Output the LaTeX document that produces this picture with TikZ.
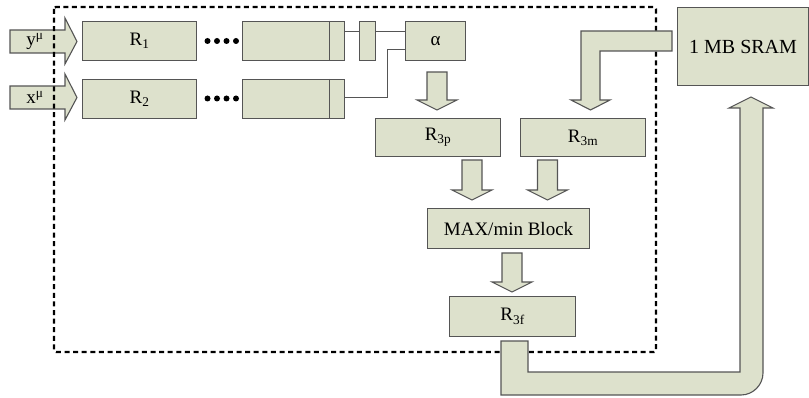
\documentclass[tikz,border=0pt]{standalone}
\usepackage{fontspec}
\setmainfont{Liberation Serif}
\definecolor{boxfill}{RGB}{221,225,204}
\definecolor{boxline}{RGB}{85,85,85}
\tikzset{
  blk/.style={draw=boxline, fill=boxfill, line width=1.1pt, inner sep=0pt, anchor=north west,
    font=\fontsize{19}{22}\selectfont},
  fat/.style={draw=boxline, fill=boxfill, line width=1.1pt, line join=miter},
  lnk/.style={draw=boxline, line width=1pt},
  frame/.style={draw=black, line width=2.3pt, dash pattern=on 5pt off 3.6pt, rounded corners=2pt},
  lbl/.style={font=\fontsize{19}{22}\selectfont, inner sep=0pt}
}
% down fat arrow: center x, top y, head base y, tip y
\newcommand{\fatdown}[4]{%
  \path[fat] (#1-10,#2) -- (#1-10,#3) -- (#1-20,#3) -- (#1,#4) -- (#1+20,#3) -- (#1+10,#3) -- (#1+10,#2) -- cycle;}
\begin{document}
\begin{tikzpicture}[x=1pt,y=-1pt]
\useasboundingbox (0,0) rectangle (809,398);

% input arrows
\path[fat] (10,30) -- (65,30) -- (65,18) -- (77,41.5) -- (65,64) -- (65,53) -- (10,53) -- cycle;
\node[lbl] (ylab) at (35,41.5) {y\textsuperscript{μ}};
\path[fat] (10,86) -- (65,86) -- (65,74) -- (77,97.5) -- (65,120) -- (65,109) -- (10,109) -- cycle;
\node[lbl] (xlab) at (35,97.5) {x\textsuperscript{μ}};

% dashed frame
\draw[frame] (54,7) rectangle (656,352);

% register chains
\node[blk, minimum width=114pt, minimum height=39pt] (r1) at (82,21) {R\textsubscript{1}};
\node[blk, minimum width=114pt, minimum height=39pt] (r2) at (82,79) {R\textsubscript{2}};
\node[blk, minimum width=102pt, minimum height=39pt] (b1) at (242,21) {};
\node[blk, minimum width=102pt, minimum height=39pt] (b2) at (242,79) {};
\draw[lnk] ([xshift=-16pt]b1.north east) -- ([xshift=-16pt]b1.south east);
\draw[lnk] ([xshift=-16pt]b2.north east) -- ([xshift=-16pt]b2.south east);
\foreach \xx in {207.5,217,226.5,236}{
  \fill (\xx,41) circle (3pt);
  \fill (\xx,98.5) circle (3pt);
}
\node[blk, minimum width=16pt, minimum height=39pt] (sm) at (359,21) {};
\node[blk, minimum width=60pt, minimum height=39pt] (al) at (405,21) {α};

\draw[lnk] ([yshift=-11pt]b1.north east) -- ([yshift=-11pt]sm.north west);
\draw[lnk] ([yshift=-11pt]sm.north east) -- ([yshift=-11pt]al.north west);
\coordinate (bend) at (387,97.5);
\draw[lnk] (b2.east |- bend) -- (bend) -- (387,50) -- (al.west |- 0,50);

% middle blocks
\node[blk, minimum width=125pt, minimum height=38pt] (r3p) at (375,118) {R\textsubscript{3p}};
\node[blk, minimum width=125pt, minimum height=38pt] (r3m) at (520,118) {R\textsubscript{3m}};
\node[blk, minimum width=162pt, minimum height=40pt] (mx) at (427,208) {MAX/min Block};
\node[blk, minimum width=126pt, minimum height=40pt] (r3f) at (449,296) {R\textsubscript{3f}};
\node[blk, minimum width=131pt, minimum height=78pt, font=\fontsize{20}{23}\selectfont] (sram) at (677,7) {1 MB SRAM};

% down arrows
\fatdown{437}{72}{100}{110}
\fatdown{472}{160}{190}{200}
\fatdown{547.5}{160}{190}{200}
\fatdown{512}{253}{282}{292}

% SRAM -> R3m bent arrow
\path[fat] (672,31) -- (581,31) -- (581,100) -- (571,100) -- (590.5,110) -- (610,100) -- (600,100) -- (600,51) -- (672,51) -- cycle;

% R3f -> SRAM loop arrow
\path[fat] (528,341) -- (501,341) -- (501,395) -- (741,395)
  .. controls (753,395) and (763,385) .. (763,373)
  -- (763,108) -- (773,108) -- (751,97) -- (729,108) -- (740,108)
  -- (740,372) -- (528,372) -- cycle;
\end{tikzpicture}
\end{document}
